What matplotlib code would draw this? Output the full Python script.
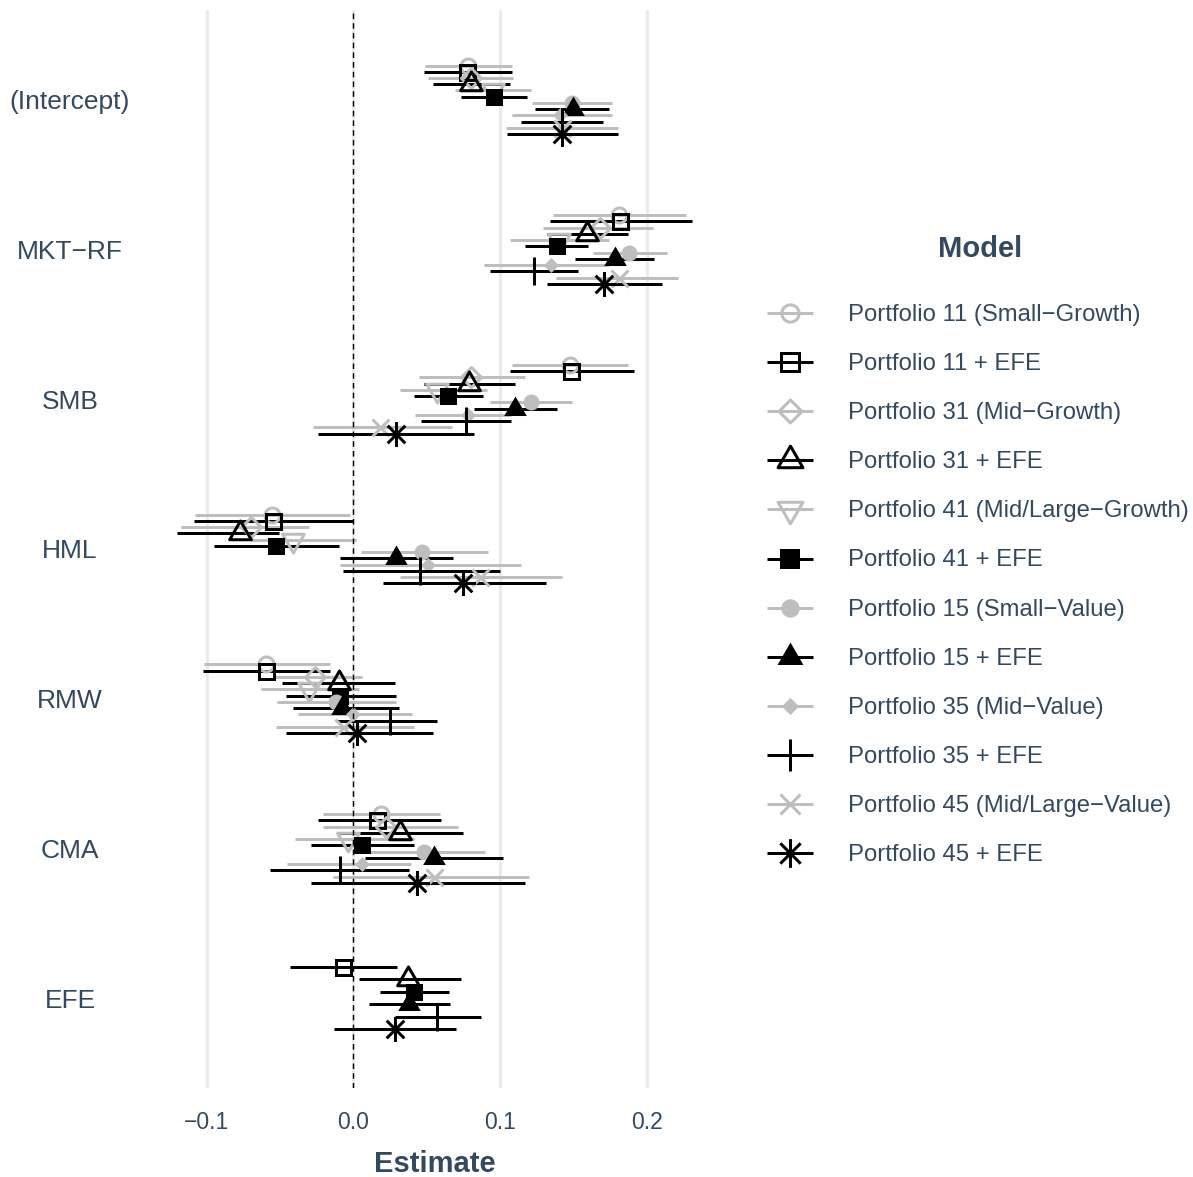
import matplotlib
matplotlib.use("Agg")
import matplotlib.pyplot as plt
import numpy as np
from matplotlib.path import Path

plt.rcParams['font.family'] = ['Liberation Sans', 'DejaVu Sans']

terms = ['(Intercept)', 'MKT\u2212RF', 'SMB', 'HML', 'RMW', 'CMA', 'EFE']
models = ['Portfolio 11 (Small\u2212Growth)', 'Portfolio 11 + EFE',
          'Portfolio 31 (Mid\u2212Growth)', 'Portfolio 31 + EFE',
          'Portfolio 41 (Mid/Large\u2212Growth)', 'Portfolio 41 + EFE',
          'Portfolio 15 (Small\u2212Value)', 'Portfolio 15 + EFE',
          'Portfolio 35 (Mid\u2212Value)', 'Portfolio 35 + EFE',
          'Portfolio 45 (Mid/Large\u2212Value)', 'Portfolio 45 + EFE']
efe_models = [1, 3, 5, 7, 9, 11]

# estimates / lower / upper per term (model order as in `models`)
intercept_est = [0.078, 0.0775, 0.080, 0.080, 0.095, 0.096, 0.149, 0.150, 0.141, 0.142, 0.142, 0.142]
intercept_lo = [0.049, 0.048, 0.051, 0.054, 0.069, 0.073, 0.122, 0.124, 0.108, 0.114, 0.104, 0.105]
intercept_hi = [0.108, 0.108, 0.109, 0.107, 0.121, 0.118, 0.176, 0.174, 0.176, 0.170, 0.180, 0.180]

mktrf_est = [0.181, 0.182, 0.168, 0.159, 0.140, 0.139, 0.188, 0.178, 0.135, 0.123, 0.181, 0.171]
mktrf_lo = [0.136, 0.134, 0.129, 0.132, 0.107, 0.117, 0.163, 0.151, 0.089, 0.093, 0.138, 0.132]
mktrf_hi = [0.227, 0.231, 0.204, 0.187, 0.174, 0.160, 0.214, 0.205, 0.174, 0.153, 0.221, 0.210]

smb_est = [0.1475, 0.148, 0.080, 0.079, 0.057, 0.0645, 0.121, 0.110, 0.078, 0.077, 0.018, 0.029]
smb_lo = [0.108, 0.107, 0.0445, 0.048, 0.032, 0.041, 0.093, 0.0825, 0.042, 0.046, -0.0275, -0.024]
smb_hi = [0.187, 0.191, 0.117, 0.110, 0.091, 0.088, 0.149, 0.139, 0.1075, 0.1075, 0.067, 0.0825]

hml_est = [-0.0554, -0.0548, -0.070, -0.0775, -0.041, -0.0525, 0.047, 0.029, 0.051, 0.0457, 0.0866, 0.075]
hml_lo = [-0.1077, -0.109, -0.1175, -0.120, -0.070, -0.095, 0.005, -0.009, -0.009, -0.007, 0.032, 0.020]
hml_hi = [-0.002, 0.000, -0.030, -0.051, 0.002, -0.010, 0.092, 0.068, 0.114, 0.100, 0.142, 0.131]

rmw_est = [-0.0593, -0.0593, -0.026, -0.010, -0.030, -0.009, -0.012, -0.008, 0.000, 0.025, -0.007, 0.0025]
rmw_lo = [-0.102, -0.1025, -0.054, -0.049, -0.063, -0.046, -0.052, -0.041, -0.038, -0.011, -0.0525, -0.046]
rmw_hi = [-0.016, -0.0157, 0.006, 0.028, 0.004, 0.029, 0.029, 0.031, 0.040, 0.057, 0.041, 0.054]

cma_est = [0.019, 0.016, 0.022, 0.032, -0.004, 0.006, 0.048, 0.055, 0.006, -0.009, 0.055, 0.043]
cma_lo = [-0.021, -0.024, -0.021, -0.011, -0.040, -0.029, 0.009, 0.008, -0.045, -0.057, -0.014, -0.029]
cma_hi = [0.059, 0.060, 0.071, 0.075, 0.041, 0.041, 0.090, 0.102, 0.039, 0.038, 0.1195, 0.117]

# EFE term only in the "+ EFE" models
efe_est = [-0.007, 0.037, 0.041, 0.038, 0.057, 0.028]
efe_lo = [-0.043, 0.004, 0.018, 0.0105, 0.028, -0.013]
efe_hi = [0.030, 0.073, 0.065, 0.066, 0.087, 0.070]

xticks = [-0.1, 0.0, 0.1, 0.2]
xticklabels = ['\u22120.1', '0.0', '0.1', '0.2']

term_data = [
    (list(range(12)), intercept_est, intercept_lo, intercept_hi),
    (list(range(12)), mktrf_est, mktrf_lo, mktrf_hi),
    (list(range(12)), smb_est, smb_lo, smb_hi),
    (list(range(12)), hml_est, hml_lo, hml_hi),
    (list(range(12)), rmw_est, rmw_lo, rmw_hi),
    (list(range(12)), cma_est, cma_lo, cma_hi),
    (efe_models, efe_est, efe_lo, efe_hi),
]

GRAY = '#BEBEBE'
BLACK = '#000000'
TXT = '#34495E'
PX = 0.72  # points per pixel at dpi 100

# custom marker paths
tri_up = Path([(0, 0.577), (-0.5, -0.289), (0.5, -0.289), (0, 0.577)], closed=True)
tri_dn = Path([(0, -0.577), (-0.5, 0.289), (0.5, 0.289), (0, -0.577)], closed=True)
diamond = Path([(0, 0.5), (0.5, 0), (0, -0.5), (-0.5, 0), (0, 0.5)], closed=True)
r = 0.7071
aster = Path([(0, -1), (0, 1), (-1, 0), (1, 0), (-r, -r), (r, r), (-r, r), (r, -r)],
             [Path.MOVETO, Path.LINETO] * 4)

# marker, size(px), face, edge, edge width(px)
styles = [
    ('o', 15, 'none', GRAY, 3),
    ('s', 15, 'none', BLACK, 3),
    (diamond, 20, 'none', GRAY, 3),
    (tri_up, 25, 'none', BLACK, 3),
    (tri_dn, 25, 'none', GRAY, 3),
    ('s', 17, BLACK, BLACK, 0),
    ('o', 16, GRAY, GRAY, 0),
    (tri_up, 26, BLACK, BLACK, 0),
    (diamond, 15, GRAY, GRAY, 0),
    ('+', 28, 'none', BLACK, 3),
    ('x', 17, 'none', GRAY, 3),
    (aster, 25, 'none', BLACK, 3),
]
colors = [GRAY, BLACK] * 6

W, H = 1193, 1177
fig = plt.figure(figsize=(W / 100, H / 100), dpi=100)
left, right, top, bottom = 152, 718, 10, 1088
ax = fig.add_axes([left / W, 1 - bottom / H, (right - left) / W, (bottom - top) / H])

dodge = 0.5
pts = []
for t, (mids, est, lo, hi) in enumerate(term_data):
    n = len(mids)
    for j, m in enumerate(mids):
        y = t + (j - (n - 1) / 2) * dodge / n
        ax.plot([lo[j], hi[j]], [y, y], color=colors[m], lw=3 * PX,
                solid_capstyle='butt', zorder=2 + m * 0.01)
        pts.append((m, est[j], y))

for m in range(12):
    xs = [p[1] for p in pts if p[0] == m]
    ys = [p[2] for p in pts if p[0] == m]
    mk, s, fc, ec, mew = styles[m]
    ax.plot(xs, ys, linestyle='none', marker=mk, markersize=s * PX,
            markerfacecolor=fc, markeredgecolor=ec, markeredgewidth=mew * PX,
            zorder=4 + m * 0.01)

ax.axvline(0, color='black', lw=1.0, linestyle=(0, (4, 3)), zorder=6)

ax.set_xlim(-0.1373, 0.2485)
ax.set_ylim(len(terms) - 1 + 0.6, -0.6)
ax.set_xticks(xticks)
ax.set_xticklabels(xticklabels)
ax.set_yticks(range(len(terms)))
ax.set_yticklabels(terms)
ax.grid(axis='x', color='#EBEBEB', lw=2.2)
ax.grid(axis='y', visible=False)
ax.set_axisbelow(True)
for sp in ax.spines.values():
    sp.set_visible(False)
ax.tick_params(axis='x', length=0, labelsize=16.5, labelcolor=TXT, pad=16.5)
ax.tick_params(axis='y', length=0, labelsize=19, labelcolor=TXT, pad=59)
for lab in ax.get_yticklabels():
    lab.set_ha('center')
ax.set_xlabel('Estimate', fontsize=21, fontweight='bold', color=TXT)
ax.xaxis.set_label_coords(0.5, -(1164 - bottom) / (bottom - top))
ax.xaxis.label.set_va('center')

# legend
lax = fig.add_axes([0, 0, 1, 1])
lax.set_xlim(0, W)
lax.set_ylim(H, 0)
lax.axis('off')
lax.text(980, 249, 'Model', fontsize=21, fontweight='bold', color=TXT,
         ha='center', va='center')
for m in range(12):
    y = 313 + m * 49.1
    mk, s, fc, ec, mew = styles[m]
    lax.plot([767, 813], [y, y], color=colors[m], lw=3 * PX, solid_capstyle='butt')
    lax.plot([790], [y], linestyle='none', marker=mk, markersize=s * 1.15 * PX,
             markerfacecolor=fc, markeredgecolor=ec, markeredgewidth=mew * PX)
    lax.text(848, y + 2, models[m], fontsize=17.2, color=TXT, ha='left', va='center')

fig.savefig('out.png', dpi=100, facecolor='white')
